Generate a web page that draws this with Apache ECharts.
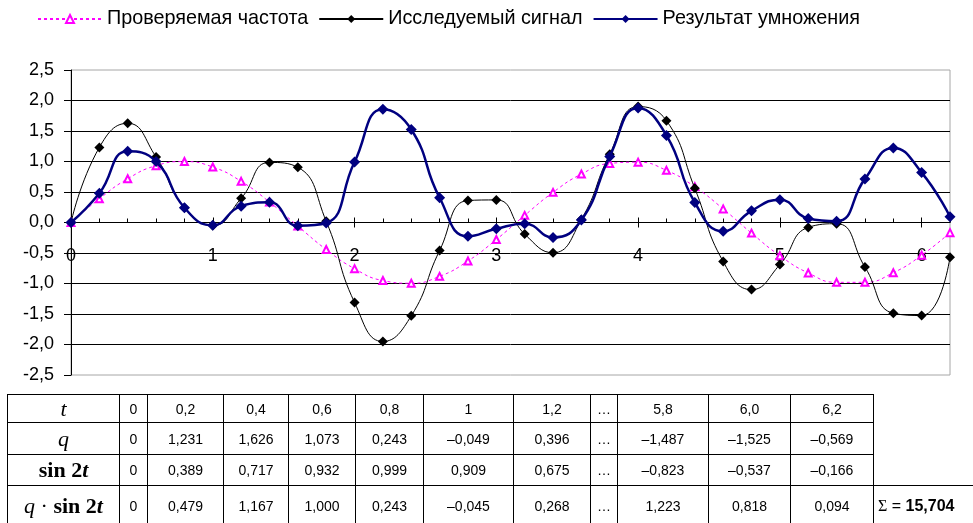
<!DOCTYPE html>
<html>
<head>
<meta charset="utf-8">
<script src="https://cdn.jsdelivr.net/npm/echarts@6/dist/echarts.min.js"></script>
<style>
  html, body { margin: 0; padding: 0; background: #fff; overflow: hidden; }
  #chart { position: absolute; left: 0; top: 0; width: 973px; height: 523px; }
  #tbl { position: absolute; left: 7px; top: 394px; border-collapse: collapse; table-layout: fixed; }
  #tbl td { border: 1px solid #000; padding: 0; text-align: center; color: #000;
            font: 14px "Liberation Sans", Arial, sans-serif; white-space: nowrap; overflow: hidden; }
  #tbl td.head { font: 22px "Liberation Serif", "Times New Roman", serif; }
  #tbl td.blank { border-top: none; border-right: none; border-bottom: none; }
  #tbl td.sum { text-align: left; padding-left: 4px; border-right: none; font-size: 16px; }
</style>
</head>
<body>
<div id="chart"></div>
<table id="tbl"></table>
<script>
// Argument t, step 0.2
const tValues = [0, 0.2, 0.4, 0.6, 0.8, 1.0, 1.2, 1.4, 1.6, 1.8, 2.0, 2.2, 2.4, 2.6, 2.8, 3.0,
                 3.2, 3.4, 3.6, 3.8, 4.0, 4.2, 4.4, 4.6, 4.8, 5.0, 5.2, 5.4, 5.6, 5.8, 6.0, 6.2];
// Test frequency sin 2t
const sinValues = [0, 0.389, 0.717, 0.932, 0.999, 0.909, 0.675, 0.335, -0.058, -0.443, -0.757, -0.952,
                   -0.996, -0.883, -0.631, -0.279, 0.117, 0.494, 0.794, 0.968, 0.989, 0.855, 0.585, 0.223,
                   -0.174, -0.544, -0.827, -0.981, -0.980, -0.823, -0.537, -0.166];
// Signal under study q
const signalValues = [0, 1.231, 1.626, 1.073, 0.243, -0.049, 0.396, 0.985, 0.905, 0.02, -1.31, -1.95,
                      -1.53, -0.46, 0.36, 0.37, -0.19, -0.495, 0.05, 1.12, 1.9, 1.67, 0.56, -0.64,
                      -1.1, -0.69, -0.08, -0.02, -0.73, -1.487, -1.525, -0.569];
// Product q * sin 2t
const productValues = [0, 0.479, 1.167, 1.000, 0.243, -0.045, 0.268, 0.330, -0.052, -0.009, 0.992, 1.856,
                       1.524, 0.406, -0.227, -0.103, -0.022, -0.245, 0.040, 1.084, 1.879, 1.428, 0.328, -0.143,
                       0.191, 0.375, 0.066, 0.020, 0.715, 1.223, 0.818, 0.094];

const seriesNames = ['Проверяемая частота', 'Исследуемый сигнал', 'Результат умножения'];

// Table: which samples are listed, and the header labels for t
const tableIndices = [0, 1, 2, 3, 4, 5, 6, null, 29, 30, 31];
const tLabels = ['0', '0,2', '0,4', '0,6', '0,8', '1', '1,2', '…', '5,8', '6,0', '6,2'];
const sumLabel = '15,704';

const pairs = vals => tValues.map((t, i) => [t, vals[i]]);

// Plot box: y from -2.5 (bottom) to 2.5 (top); the t axis runs through y = 0,
// i.e. half the plot height in from either edge.
const gridTop = 70, gridBottom = 148, chartHeight = 523;
const zeroOffset = -((chartHeight - gridBottom - gridTop) / 2);

const chart = echarts.init(document.getElementById('chart'), null, { renderer: 'canvas' });

const option = {
  animation: false,
  backgroundColor: '#fff',
  textStyle: { fontFamily: '"Liberation Sans", Arial, sans-serif' },
  legend: {
    data: seriesNames,
    left: 32, top: 4,
    itemWidth: 64, itemHeight: 10, itemGap: 10,
    textStyle: { fontSize: 19.8, color: '#000' }
  },
  grid: {
    left: 71, right: 23, top: gridTop, bottom: gridBottom,
    show: true, borderColor: '#a6a6a6', borderWidth: 1
  },
  xAxis: [
    {
      // labels and downward half of the major ticks
      type: 'value', position: 'bottom', offset: zeroOffset,
      min: 0, max: 6.2, interval: 1,
      axisLine: { show: true, onZero: false, lineStyle: { color: '#000', width: 1 } },
      axisTick: { show: true, length: 5, lineStyle: { color: '#000' } },
      axisLabel: { margin: 25, fontSize: 18, color: '#000', showMaxLabel: false },
      splitLine: { show: false }
    },
    {
      // upward half of the major ticks plus minor ticks every 0.2
      type: 'value', position: 'top', offset: zeroOffset,
      min: 0, max: 6.2, interval: 1,
      axisLine: { show: false, onZero: false },
      axisTick: { show: true, length: 5, lineStyle: { color: '#000' } },
      minorTick: { show: true, splitNumber: 5, length: 4, lineStyle: { color: '#000' } },
      axisLabel: { show: false },
      splitLine: { show: false }
    }
  ],
  yAxis: {
    type: 'value', min: -2.5, max: 2.5, interval: 0.5,
    axisLine: { show: true, onZero: false, lineStyle: { color: '#000', width: 1 } },
    axisTick: { show: true, length: 7, lineStyle: { color: '#000' } },
    axisLabel: {
      margin: 17, fontSize: 18, color: '#000',
      formatter: v => v.toFixed(1).replace('.', ',')
    },
    splitLine: {
      show: true, showMinLine: false, showMaxLine: false,
      lineStyle: { color: '#000', width: 1 }
    }
  },
  series: [
    {
      name: seriesNames[0], type: 'line', data: pairs(sinValues),
      smooth: 0.5, symbol: 'emptyTriangle', symbolSize: 7,
      lineStyle: { color: '#ff00ff', width: 1, type: [3, 3] },
      itemStyle: { color: '#ff00ff', borderWidth: 1 },
      z: 2
    },
    {
      name: seriesNames[1], type: 'line', data: pairs(signalValues),
      smooth: 0.5, symbol: 'diamond', symbolSize: 10,
      lineStyle: { color: '#000', width: 1 },
      itemStyle: { color: '#000' },
      z: 3
    },
    {
      name: seriesNames[2], type: 'line', data: pairs(productValues),
      smooth: 0.5, symbol: 'diamond', symbolSize: 11,
      lineStyle: { color: '#000080', width: 2.5 },
      itemStyle: { color: '#000080' },
      z: 4
    }
  ]
};
chart.setOption(option);

// ----- value table under the chart -----
function fmt(v) {
  if (v === 0) return '0';
  const s = Math.abs(v).toFixed(3).replace('.', ',');
  return v < 0 ? '–' + s : s;
}
const colWidths = [112, 28, 76, 65, 67, 68, 90, 77, 27, 91, 82, 83, 110];
const rowHeights = [28, 32, 31, 40];
const rowHeads = [
  '<i>t</i>',
  '<i>q</i>',
  '<b>sin 2<i>t</i></b>',
  '<i>q</i> · <b>sin 2<i>t</i></b>'
];
const rowValues = [
  null,
  signalValues,
  sinValues,
  productValues
];

const tbl = document.getElementById('tbl');
tbl.style.width = colWidths.reduce((a, b) => a + b, 0) + 'px';
let html = '<colgroup>' + colWidths.map(w => `<col style="width:${w}px">`).join('') + '</colgroup>';
rowHeads.forEach((head, r) => {
  html += `<tr style="height:${rowHeights[r]}px"><td class="head">${head}</td>`;
  tableIndices.forEach((idx, c) => {
    let txt;
    if (idx === null) txt = '…';
    else if (r === 0) txt = tLabels[c];
    else txt = fmt(rowValues[r][idx]);
    html += `<td>${txt}</td>`;
  });
  if (r === 3) {
    html += `<td class="sum"><span style="font-family:'Liberation Serif',serif">Σ</span> = <b>${sumLabel}</b></td>`;
  } else {
    html += '<td class="blank"></td>';
  }
  html += '</tr>';
});
tbl.innerHTML = html;
</script>
</body>
</html>
